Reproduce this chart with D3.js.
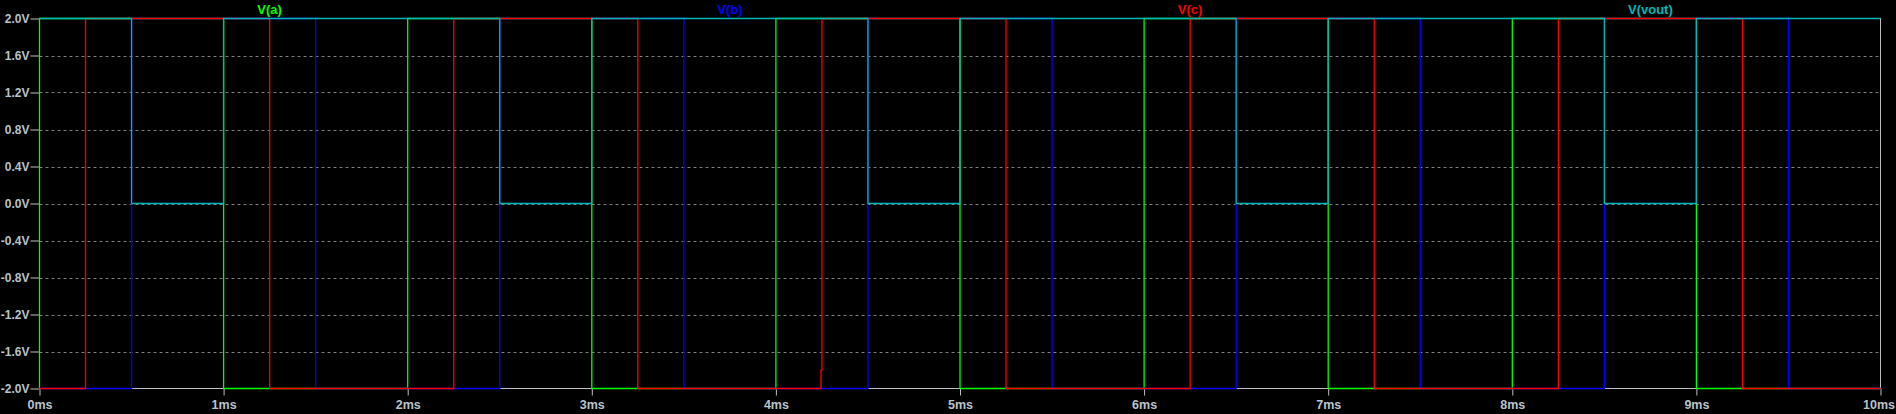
<!DOCTYPE html>
<html>
<head>
<meta charset="utf-8">
<script src="https://cdn.jsdelivr.net/npm/d3@7"></script>
<style>
  html, body { margin: 0; padding: 0; background: #000; }
  svg { display: block; }
  text { font-family: "Liberation Sans", Arial, sans-serif; font-weight: bold; }
</style>
</head>
<body>
<svg id="chart" width="1896" height="414"></svg>
<script>
// ---- data (time in ms, voltage in V) ----
const seriesNames = ["V(a)", "V(b)", "V(c)", "V(vout)"];
const seriesColors = ["#00ff00", "#0000ff", "#ff0000", "#00b8b8"];

// step waveforms: value holds from each time until the next time
const aTimes = [0, 0, 1, 2, 3, 4, 5, 6, 7, 8, 9, 10];
const aValues = [-2, 2, -2, 2, -2, 2, -2, 2, -2, 2, -2, -2];

const bTimes = [0, 0.5, 1.5, 2.5, 3.5, 4.5, 5.5, 6.5, 7.5, 8.5, 9.5, 10];
const bValues = [-2, 2, -2, 2, -2, 2, -2, 2, -2, 2, -2, -2];

const cTimes = [0, 0.25, 1.25, 2.25, 3.25, 4.245, 4.25, 5.25, 6.25, 7.25, 8.25, 9.25, 10];
const cValues = [-2, 2, -2, 2, -2, -1.8, 2, -2, 2, -2, 2, -2, -2];

const voutTimes = [0, 0.5, 1, 2.5, 3, 4.5, 5, 6.5, 7, 8.5, 9, 10];
const voutValues = [2, 0, 2, 0, 2, 0, 2, 0, 2, 0, 2, 2];

const xTickValues = [0, 1, 2, 3, 4, 5, 6, 7, 8, 9, 10];
const xTickLabels = ["0ms", "1ms", "2ms", "3ms", "4ms", "5ms", "6ms", "7ms", "8ms", "9ms", "10ms"];
const yTickValues = [2.0, 1.6, 1.2, 0.8, 0.4, 0.0, -0.4, -0.8, -1.2, -1.6, -2.0];
const yTickLabels = ["2.0V", "1.6V", "1.2V", "0.8V", "0.4V", "0.0V", "-0.4V", "-0.8V", "-1.2V", "-1.6V", "-2.0V"];

// ---- layout ----
const svg = d3.select("#chart");
const plotLeft = 39.5, plotRight = 1880.5, plotTop = 18.5, plotBottom = 388.5;
const x = d3.scaleLinear().domain([0, 10]).range([plotLeft, plotRight]);
const y = d3.scaleLinear().domain([-2, 2]).range([plotBottom, plotTop]);
const axisColor = "#c0c0c0";
const labelColor = "#b9c3cc";

// grid (horizontal dashed)
svg.append("g").selectAll("line")
  .data(yTickValues.filter(v => v > -2 && v < 2))
  .join("line")
  .attr("x1", plotLeft).attr("x2", plotRight)
  .attr("y1", d => Math.round(y(d)) + 0.5).attr("y2", d => Math.round(y(d)) + 0.5)
  .attr("stroke", "#808080").attr("stroke-width", 1)
  .attr("stroke-dasharray", "3,3");

// frame
svg.append("rect")
  .attr("x", plotLeft).attr("y", plotTop)
  .attr("width", plotRight - plotLeft).attr("height", plotBottom - plotTop)
  .attr("fill", "none").attr("stroke", axisColor).attr("stroke-width", 1);

// axes
const yAxis = d3.axisLeft(y).tickValues(yTickValues)
  .tickFormat((d, i) => yTickLabels[i]).tickSize(9).tickPadding(1);
const gy = svg.append("g").attr("transform", `translate(${plotLeft},0)`).call(yAxis);
gy.select(".domain").remove();
gy.selectAll(".tick line").attr("stroke", axisColor);
gy.selectAll(".tick text").attr("fill", labelColor).attr("font-size", 12)
  .attr("font-family", "'Liberation Sans', Arial, sans-serif").attr("font-weight", "bold");

const xAxis = d3.axisBottom(x).tickValues(xTickValues)
  .tickFormat((d, i) => xTickLabels[i]).tickSize(7).tickPadding(5);
const gx = svg.append("g").attr("transform", `translate(0,${plotBottom})`).call(xAxis);
gx.select(".domain").remove();
gx.selectAll(".tick line").attr("stroke", axisColor);
gx.selectAll(".tick text").attr("fill", labelColor).attr("font-size", 12.5)
  .attr("font-family", "'Liberation Sans', Arial, sans-serif").attr("font-weight", "bold");
// keep the last label inside the picture
gx.selectAll(".tick text").filter((d, i) => i === xTickValues.length - 1)
  .attr("text-anchor", "end").attr("dx", "14");

// traces
const series = [
  { t: aTimes, v: aValues },
  { t: bTimes, v: bValues },
  { t: cTimes, v: cValues },
  { t: voutTimes, v: voutValues }
];
const line = d3.line()
  .x(d => x(d[0])).y(d => y(d[1]))
  .curve(d3.curveStepAfter);
series.forEach((s, i) => {
  const pts = s.t.map((t, k) => [t, s.v[k]]);
  svg.append("path")
    .attr("d", line(pts))
    .attr("fill", "none")
    .attr("stroke", seriesColors[i])
    .attr("stroke-width", 1.3);
});

// titles
const titleX = d3.scaleLinear().domain([0, 4]).range([plotLeft, plotRight]);
svg.append("g").selectAll("text")
  .data(seriesNames)
  .join("text")
  .attr("x", (d, i) => titleX(i + 0.5))
  .attr("y", 9)
  .attr("dy", "0.35em")
  .attr("text-anchor", "middle")
  .attr("font-size", 13)
  .attr("fill", (d, i) => seriesColors[i])
  .text(d => d);
</script>
</body>
</html>
